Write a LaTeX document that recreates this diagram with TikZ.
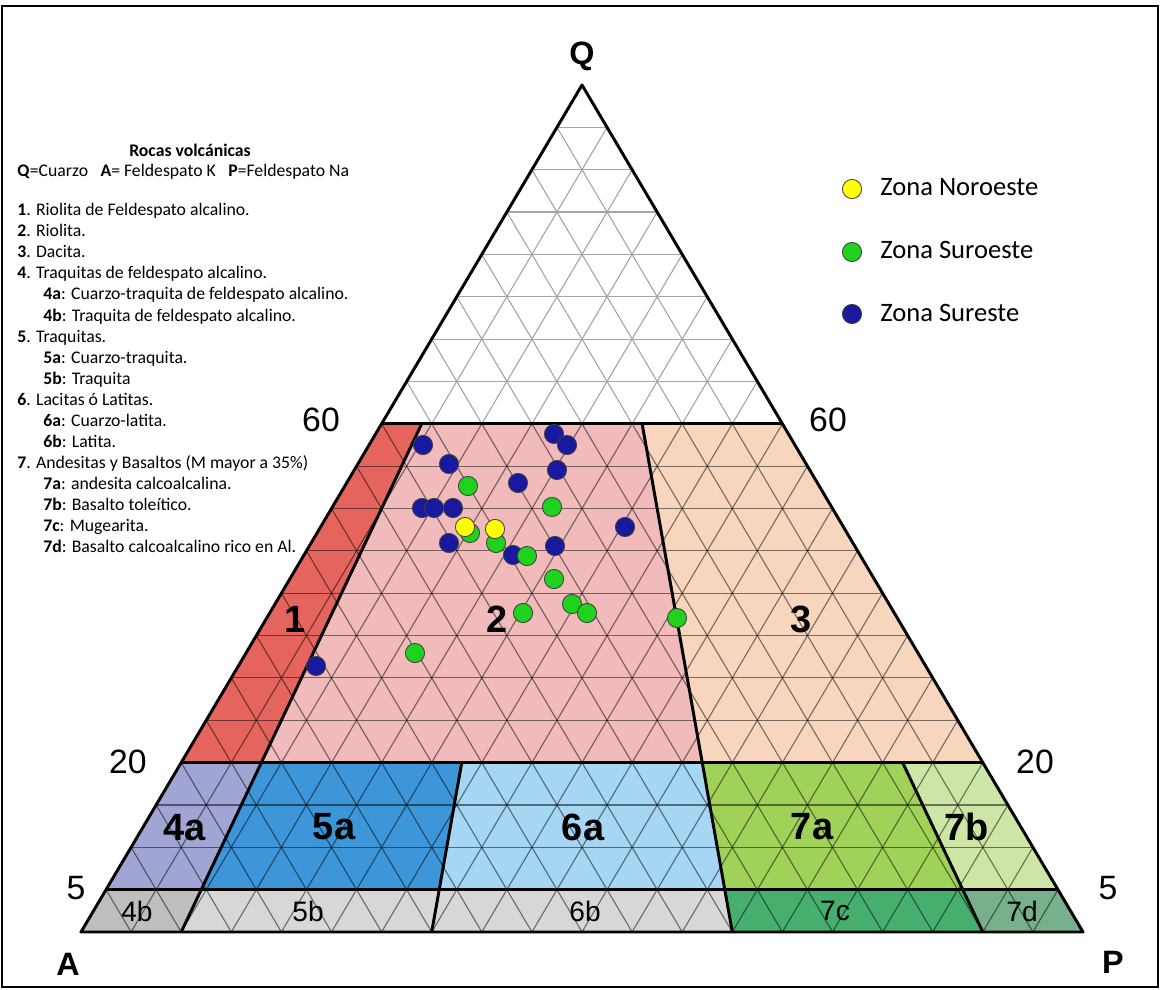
\documentclass[tikz,border=0pt]{standalone}
\usepackage{fontspec}
\setmainfont{Carlito}
\newfontfamily\labelfont{Liberation Sans}
\usepackage{tikz}

\definecolor{field1}{HTML}{E5645E}
\definecolor{field2}{HTML}{F2BBBB}
\definecolor{field3}{HTML}{F8D6BE}
\definecolor{field4a}{HTML}{A0A5D4}
\definecolor{field5a}{HTML}{3C96D7}
\definecolor{field6a}{HTML}{A5D7F5}
\definecolor{field7a}{HTML}{A0D25A}
\definecolor{field7b}{HTML}{CDE6A5}
\definecolor{field4b}{HTML}{BEBEBE}
\definecolor{field5b}{HTML}{D7D7D7}
\definecolor{field7c}{HTML}{46AF6E}
\definecolor{field7d}{HTML}{78AF8C}
\definecolor{zblue}{HTML}{1919A0}
\definecolor{zgreen}{HTML}{1ED21E}
\definecolor{zyellow}{HTML}{FFFF00}

\tikzset{
  boundary/.style={line width=2.1pt,line join=round},
  gridline/.style={line width=0.8pt},
  noroeste/.style={circle,fill=zyellow,draw=black!75,line width=0.6pt,minimum size=0.48cm,inner sep=0pt},
  suroeste/.style={circle,fill=zgreen,draw=black!75,line width=0.6pt,minimum size=0.48cm,inner sep=0pt},
  sureste/.style={circle,fill=zblue,draw=black!75,line width=0.6pt,minimum size=0.48cm,inner sep=0pt},
  legendtext/.style={anchor=base west,inner sep=0pt,font=\fontsize{12.6}{14}\selectfont},
  zonetext/.style={anchor=base west,inner sep=0pt,font=\fontsize{18.9}{22}\selectfont},
  biglabel/.style={inner sep=0pt,font=\labelfont\bfseries\fontsize{27}{30}\selectfont},
  smalllabel/.style={inner sep=0pt,font=\labelfont\fontsize{20}{22}\selectfont},
  scalelabel/.style={inner sep=0pt,font=\labelfont\fontsize{24}{26}\selectfont},
  vertexlabel/.style={inner sep=0pt,font=\labelfont\bfseries\fontsize{23}{26}\selectfont}
}

\begin{document}
\begin{tikzpicture}[x=0.025cm,y=-0.025cm]
\useasboundingbox (0,0) rectangle (1161,990);
\draw[line width=1.5pt] (2,6) rectangle (1158,987);

\coordinate (A) at (81,932);
\coordinate (P) at (1083,932);
\coordinate (Q) at (582,85);
\coordinate (a5) at (106.05,889.65);
\coordinate (a20) at (181.2,762.6);
\coordinate (a60) at (381.6,423.8);
\coordinate (p5) at (1057.95,889.65);
\coordinate (p20) at (982.8,762.6);
\coordinate (p60) at (782.4,423.8);
\coordinate (b0) at (181.2,932);
\coordinate (b5) at (201.24,889.65);
\coordinate (b20) at (261.36,762.6);
\coordinate (b60) at (421.68,423.8);
\coordinate (c0) at (431.7,932);
\coordinate (c5) at (439.22,889.65);
\coordinate (c20) at (461.76,762.6);
\coordinate (d0) at (732.3,932);
\coordinate (d5) at (724.79,889.65);
\coordinate (d20) at (702.24,762.6);
\coordinate (d60) at (642.12,423.8);
\coordinate (e0) at (982.8,932);
\coordinate (e5) at (962.76,889.65);
\coordinate (e20) at (902.64,762.6);

\fill[field1] (a20) -- (a60) -- (b60) -- (b20) -- cycle;
\fill[field2] (b20) -- (b60) -- (d60) -- (d20) -- cycle;
\fill[field3] (d20) -- (d60) -- (p60) -- (p20) -- cycle;
\fill[field4a] (a5) -- (a20) -- (b20) -- (b5) -- cycle;
\fill[field5a] (b5) -- (b20) -- (c20) -- (c5) -- cycle;
\fill[field6a] (c5) -- (c20) -- (d20) -- (d5) -- cycle;
\fill[field7a] (d5) -- (d20) -- (e20) -- (e5) -- cycle;
\fill[field7b] (e5) -- (e20) -- (p20) -- (p5) -- cycle;
\fill[field4b] (A) -- (a5) -- (b5) -- (b0) -- cycle;
\fill[field5b] (b0) -- (b5) -- (c5) -- (c0) -- cycle;
\fill[field5b] (c0) -- (c5) -- (d5) -- (d0) -- cycle;
\fill[field7c] (d0) -- (d5) -- (e5) -- (e0) -- cycle;
\fill[field7d] (e0) -- (e5) -- (p5) -- (P) -- cycle;

\begin{scope}
\clip (a60) -- (Q) -- (p60) -- cycle;
\foreach \k in {1,...,19}{
  \draw[gridline,black!35] ({81+25.05*\k},{932-42.35*\k}) -- ({1083-25.05*\k},{932-42.35*\k});
  \draw[gridline,black!35] ({81+50.1*\k},932) -- ++({501-25.05*\k},{-847+42.35*\k});
  \draw[gridline,black!35] ({81+50.1*\k},932) -- ++({-25.05*\k},{-42.35*\k});
}
\end{scope}
\begin{scope}
\clip (A) -- (a60) -- (p60) -- (P) -- cycle;
\foreach \k in {1,...,19}{
  \draw[gridline,draw opacity=0.5] ({81+25.05*\k},{932-42.35*\k}) -- ({1083-25.05*\k},{932-42.35*\k});
  \draw[gridline,draw opacity=0.5] ({81+50.1*\k},932) -- ++({501-25.05*\k},{-847+42.35*\k});
  \draw[gridline,draw opacity=0.5] ({81+50.1*\k},932) -- ++({-25.05*\k},{-42.35*\k});
}
\end{scope}

\draw[boundary] (a60) -- (p60);
\draw[boundary] (a20) -- (p20);
\draw[boundary] (a5) -- (p5);
\draw[boundary] (b0) -- (b60);
\draw[boundary] (c0) -- (c20);
\draw[boundary] (d0) -- (d60);
\draw[boundary] (e0) -- (e20);
\draw[boundary] (A) -- (P) -- (Q) -- cycle;

\node[vertexlabel] (lq) at (582,56) {Q};
\node[vertexlabel] (la) at (68,964) {A};
\node[vertexlabel] (lp) at (1113,962) {P};
\node[scalelabel] (l60a) at (321,420) {60};
\node[scalelabel] (l60b) at (828,420) {60};
\node[scalelabel] (l20a) at (128,762) {20};
\node[scalelabel] (l20b) at (1035,762) {20};
\node[scalelabel] (l5a) at (76,888) {5};
\node[scalelabel] (l5b) at (1108,888) {5};

\node[biglabel] (n1) at (295,619) {1};
\node[biglabel] (n2) at (497,619) {2};
\node[biglabel] (n3) at (801,619) {3};
\node[biglabel] (n4a) at (185,828) {4a};
\node[biglabel] (n5a) at (334,827) {5a};
\node[biglabel] (n6a) at (583,827) {6a};
\node[biglabel] (n7a) at (812,827) {7a};
\node[biglabel] (n7b) at (967,827) {7b};
\node[smalllabel] (n4b) at (137,911) {4b};
\node[smalllabel] (n5b) at (308,911) {5b};
\node[smalllabel] (n6b) at (585,911) {6b};
\node[smalllabel] (n7c) at (835,911) {7c};
\node[smalllabel] (n7d) at (1022,911) {7d};

\node[sureste] (s1) at (423,445) {};
\node[sureste] (s2) at (449,464) {};
\node[sureste] (s3) at (554,434) {};
\node[sureste] (s4) at (567,445) {};
\node[sureste] (s5) at (557,470) {};
\node[sureste] (s6) at (518,483) {};
\node[sureste] (s7) at (422,508) {};
\node[sureste] (s8) at (434,508) {};
\node[sureste] (s9) at (453,508) {};
\node[sureste] (s10) at (449,543) {};
\node[sureste] (s11) at (513,555) {};
\node[sureste] (s12) at (555,546) {};
\node[sureste] (s13) at (625,527) {};
\node[sureste] (s14) at (316,666) {};
\node[suroeste] (g1) at (468,486) {};
\node[suroeste] (g2) at (552,507) {};
\node[suroeste] (g3) at (470,533) {};
\node[suroeste] (g4) at (496,543) {};
\node[suroeste] (g5) at (527,556) {};
\node[suroeste] (g6) at (554,579) {};
\node[suroeste] (g7) at (572,604) {};
\node[suroeste] (g8) at (587,613) {};
\node[suroeste] (g9) at (523,613) {};
\node[suroeste] (g10) at (677,618) {};
\node[suroeste] (g11) at (415,653) {};
\node[noroeste] (y1) at (465,527) {};
\node[noroeste] (y2) at (495,529) {};

\node[noroeste] (k1) at (852,189) {};
\node[suroeste] (k2) at (852,252) {};
\node[sureste] (k3) at (852,314) {};
\node[zonetext] (t1) at (880,196) {Zona Noroeste};
\node[zonetext] (t2) at (880,259) {Zona Suroeste};
\node[zonetext] (t3) at (880,322) {Zona Sureste};

\node[legendtext,anchor=base] (h0) at (190,157) {\textbf{Rocas volcánicas}};
\node[legendtext] (h1) at (17,177) {\textbf{Q}=Cuarzo\hspace{6pt} \textbf{A}= Feldespato K\hspace{6pt} \textbf{P}=Feldespato Na};
\node[legendtext] (i1) at (17,216) {\textbf{1}. Riolita de Feldespato alcalino.};
\node[legendtext] (i2) at (17,237) {\textbf{2}. Riolita.};
\node[legendtext] (i3) at (17,258) {\textbf{3}. Dacita.};
\node[legendtext] (i4) at (17,279) {\textbf{4}. Traquitas de feldespato alcalino.};
\node[legendtext] (i4a) at (43,300) {\textbf{4a}: Cuarzo-traquita de feldespato alcalino.};
\node[legendtext] (i4b) at (43,321) {\textbf{4b}: Traquita de feldespato alcalino.};
\node[legendtext] (i5) at (17,342) {\textbf{5}. Traquitas.};
\node[legendtext] (i5a) at (43,363) {\textbf{5a}: Cuarzo-traquita.};
\node[legendtext] (i5b) at (43,384) {\textbf{5b}: Traquita};
\node[legendtext] (i6) at (17,405) {\textbf{6}. Lacitas ó Latitas.};
\node[legendtext] (i6a) at (43,426) {\textbf{6a}: Cuarzo-latita.};
\node[legendtext] (i6b) at (43,447) {\textbf{6b}: Latita.};
\node[legendtext] (i7) at (17,468) {\textbf{7}. Andesitas y Basaltos (M mayor a 35\%)};
\node[legendtext] (i7a) at (43,489) {\textbf{7a}: andesita calcoalcalina.};
\node[legendtext] (i7b) at (43,510) {\textbf{7b}: Basalto toleítico.};
\node[legendtext] (i7c) at (43,531) {\textbf{7c}: Mugearita.};
\node[legendtext] (i7d) at (43,552) {\textbf{7d}: Basalto calcoalcalino rico en Al.};
\end{tikzpicture}
\end{document}
